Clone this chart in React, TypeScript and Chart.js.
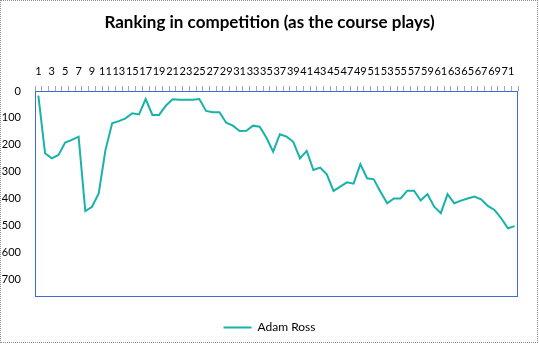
import React, { useEffect, useRef } from 'react';
import { Chart, registerables } from 'chart.js';

Chart.register(...registerables);

const titleText = 'Ranking in competition (as the course plays)';
const seriesName = 'Adam Ross';

const holes = [
  '1', '2', '3', '4', '5', '6', '7', '8', '9', '10', '11', '12',
  '13', '14', '15', '16', '17', '18', '19', '20', '21', '22', '23', '24',
  '25', '26', '27', '28', '29', '30', '31', '32', '33', '34', '35', '36',
  '37', '38', '39', '40', '41', '42', '43', '44', '45', '46', '47', '48',
  '49', '50', '51', '52', '53', '54', '55', '56', '57', '58', '59', '60',
  '61', '62', '63', '64', '65', '66', '67', '68', '69', '70', '71', '72',
];

const rankings = [
  17, 232, 251, 238, 192, 182, 170, 447, 431, 381, 220, 120,
  112, 102, 83, 87, 30, 89, 89, 55, 31, 33, 33, 33,
  30, 74, 79, 79, 118, 129, 149, 148, 129, 133, 174, 226,
  161, 170, 189, 251, 223, 294, 285, 310, 372, 356, 340, 345,
  272, 325, 329, 375, 418, 400, 400, 371, 371, 408, 384, 431,
  455, 384, 418, 408, 400, 393, 403, 428, 443, 474, 511, 503,
];

const yMin = 0;
const yMax = 767;
const yStep = 100;

const LINE_COLOR = '#17B3A8';
const FRAME_BLUE = '#4169D6';
const FONT = 'Lato, "Open Sans", sans-serif';

const plotFrame = {
  id: 'plotFrame',
  afterDraw(chart: any) {
    const { ctx, chartArea } = chart;
    ctx.save();
    ctx.strokeStyle = FRAME_BLUE;
    ctx.lineWidth = 1;
    ctx.strokeRect(
      Math.round(chartArea.left) + 0.5,
      Math.round(chartArea.top) + 0.5,
      Math.round(chartArea.right - chartArea.left) - 1,
      Math.round(chartArea.bottom - chartArea.top) - 1
    );
    ctx.restore();
  },
};

export default function App() {
  const ref = useRef<HTMLCanvasElement | null>(null);

  useEffect(() => {
    if (!ref.current) return;
    const chart = new Chart(ref.current, {
      type: 'line',
      data: {
        labels: holes,
        datasets: [
          {
            label: seriesName,
            data: rankings,
            borderColor: LINE_COLOR,
            backgroundColor: LINE_COLOR,
            borderWidth: 2,
            pointRadius: 0,
            pointStyle: 'line',
            tension: 0,
            fill: false,
          },
        ],
      },
      options: {
        animation: false,
        responsive: false,
        devicePixelRatio: 1,
        layout: { padding: { left: 2, right: 2, top: 0, bottom: 4.5 } },
        plugins: {
          title: {
            display: true,
            text: titleText,
            color: '#000',
            font: { family: FONT, size: 17, weight: 'bold', lineHeight: 1.2 },
            padding: { top: 12.2, bottom: 32.4 },
          },
          legend: {
            display: true,
            position: 'bottom',
            labels: {
              usePointStyle: true,
              pointStyleWidth: 28,
              color: '#000',
              font: { family: FONT, size: 12 },
              padding: 24.5,
            },
          },
          tooltip: { enabled: false },
        },
        scales: {
          x: {
            type: 'category',
            position: 'top',
            offset: true,
            grid: {
              display: true,
              drawOnChartArea: false,
              drawTicks: true,
              tickLength: 5,
              tickColor: '#A6A6A6',
              offset: true,
            },
            border: { display: false },
            ticks: {
              autoSkip: false,
              maxRotation: 0,
              minRotation: 0,
              padding: 8,
              color: '#000',
              font: { family: FONT, size: 11 },
              callback: (_v: any, i: number) => (i % 2 === 0 ? holes[i] : ''),
            },
            afterFit: (s: any) => {
              s.height = 26;
            },
          },
          y: {
            type: 'linear',
            reverse: true,
            min: yMin,
            max: yMax,
            grid: { display: false, drawTicks: false },
            border: { display: false },
            ticks: {
              stepSize: yStep,
              padding: 14,
              color: '#000',
              font: { family: FONT, size: 11 },
            },
            afterBuildTicks: (s: any) => {
              s.ticks = s.ticks.filter((t: any) => t.value % yStep === 0);
            },
            afterFit: (s: any) => {
              s.width = 33;
            },
          },
          y2: {
            type: 'linear',
            position: 'right',
            display: true,
            grid: { display: false, drawTicks: false },
            border: { display: false },
            ticks: { display: false },
            afterFit: (s: any) => {
              s.width = 19;
            },
          },
        },
      },
      plugins: [plotFrame],
    });
    return () => chart.destroy();
  }, []);

  return (
    <div style={{ position: 'absolute', left: 0, top: 0, width: 539, height: 348, background: '#fff' }}>
      <canvas ref={ref} width={539} height={348} style={{ position: 'absolute', left: 0, top: 0 }} />
      <div
        style={{
          position: 'absolute',
          left: 0,
          top: 0,
          width: 538,
          height: 343,
          boxSizing: 'border-box',
          border: '1px dotted #8a8a8a',
          pointerEvents: 'none',
        }}
      />
    </div>
  );
}
